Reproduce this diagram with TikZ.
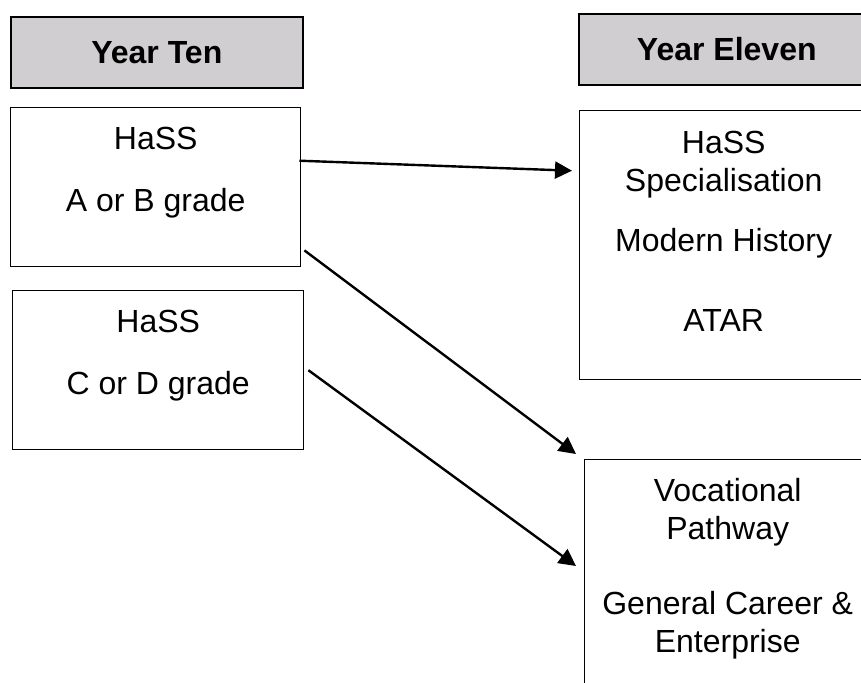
\documentclass[tikz,border=0pt]{standalone}
\usepackage{fontspec}
\setmainfont{Liberation Sans}
\usetikzlibrary{arrows.meta,positioning}
\definecolor{headgrey}{RGB}{208,206,208}
\tikzset{
    year box/.style={
        draw, fill=headgrey, line width=0.8pt, anchor=north west,
        font=\fontsize{16}{19}\selectfont\bfseries
    },
    path box/.style={
        draw, line width=0.7pt, anchor=north west
    },
    path text/.style={
        inner sep=0pt, align=center,
        font=\fontsize{16}{19}\selectfont
    },
    path arrow/.style={
        -{Triangle[length=8.5pt,width=8.5pt]}, line width=1.2pt
    }
}

\begin{document}
\begin{tikzpicture}[x=0.5pt,y=-0.5pt]
\clip (0,0) rectangle (861,682);
% headings
\node[year box, minimum width=146pt, minimum height=35.5pt] (yrTen) at (10,16) {Year Ten};
\node[year box, minimum width=148pt, minimum height=35.5pt] (yrEleven) at (578,13) {Year Eleven};
% year ten boxes
\node[path box, minimum width=145pt, minimum height=79.5pt] (tenA) at (10,107) {};
\node[path text, below=10pt of tenA.north] (tenAtxt) {HaSS\\[12pt]A or B grade};
\node[path box, minimum width=145.5pt, minimum height=79.5pt] (tenC) at (12,290) {};
\node[path text, below=10pt of tenC.north] (tenCtxt) {HaSS\\[12pt]C or D grade};
% year eleven boxes
\node[path box, minimum width=145pt, minimum height=134.5pt] (hist) at (579,110) {};
\node[path text, below=10.5pt of hist.north, xshift=-0.5pt] (histtxt)
    {HaSS\\Specialisation\\[11pt]Modern History\\[21pt]ATAR};
\node[path box, minimum width=145pt, minimum height=135pt] (voc) at (584,459) {};
\node[path text, below=9.5pt of voc.north, xshift=-1pt] (voctxt)
    {Vocational\\Pathway\\[18.5pt]General Career \&\\Enterprise};
% arrows
\draw[path arrow] ([shift={(-2,-26.5)}]tenA.east) -- ([shift={(-7,-74.5)}]hist.west);
\draw[path arrow] ([shift={(3,-17)}]tenA.south east) -- ([shift={(-8,-5)}]voc.north west);
\draw[path arrow] ([shift={(4,0)}]tenC.east) -- ([shift={(-8,107)}]voc.north west);
\end{tikzpicture}
\end{document}
